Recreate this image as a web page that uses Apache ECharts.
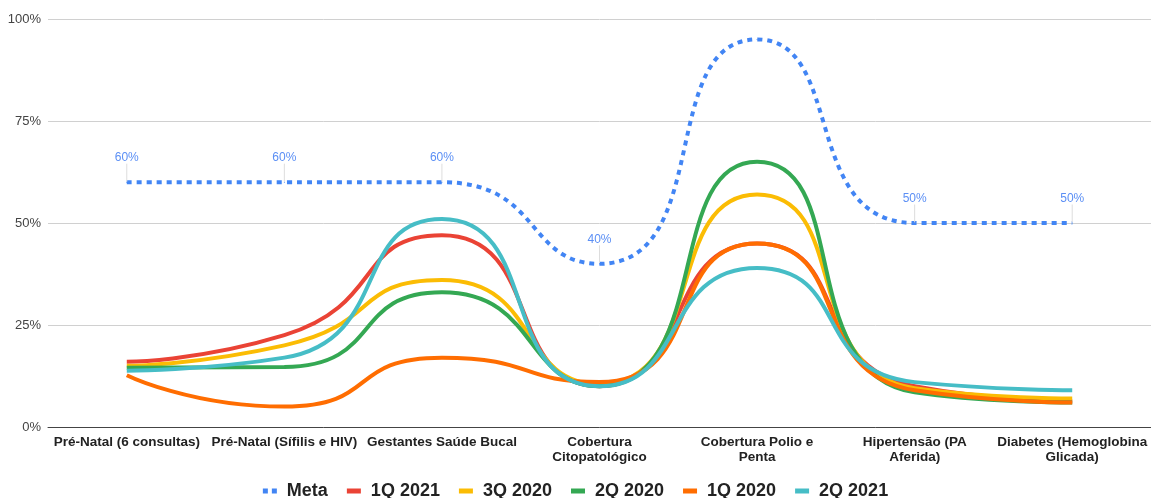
<!DOCTYPE html>
<html>
<head>
<meta charset="utf-8">
<script src="https://cdn.jsdelivr.net/npm/echarts@6/dist/echarts.min.js"></script>
<style>html,body{margin:0;padding:0;background:#fff}#c{width:1151px;height:498px}</style>
</head>
<body>
<div id="c"></div>
<script>
var categories = ["Pré-Natal (6 consultas)", "Pré-Natal (Sífilis e HIV)", "Gestantes Saúde Bucal", "Cobertura Citopatológico", "Cobertura Polio e Penta", "Hipertensão (PA Aferida)", "Diabetes (Hemoglobina Glicada)"];
var tickLabels = ["Pré-Natal (6 consultas)", "Pré-Natal (Sífilis e HIV)", "Gestantes Saúde Bucal", "Cobertura\nCitopatológico", "Cobertura Polio e\nPenta", "Hipertensão (PA\nAferida)", "Diabetes (Hemoglobina\nGlicada)"];
var yTicks = ["0%", "25%", "50%", "75%", "100%"];
var meta = [60, 60, 60, 40, 95, 50, 50];
var q1_2021 = [16, 22.5, 47, 10, 45, 10, 6.3];
var q3_2020 = [15, 20, 36, 10.5, 57, 9.5, 7];
var q2_2020 = [14.5, 14.7, 33, 10, 65, 8.5, 6];
var q1_2020 = [12.7, 5, 17, 11, 45, 9, 6];
var q2_2021 = [13.8, 17, 51, 10, 39, 11, 9];
var metaLabelShown = [true, true, true, true, false, true, true];

var colors = ["#4285f4", "#ea4335", "#fbbc04", "#34a853", "#ff6d01", "#46bdc6"];
var chart = echarts.init(document.getElementById('c'));
function lineSeries(name, data, color) {
  return {
    name: name, type: 'line', data: data, smooth: 0.6, symbol: 'none',
    lineStyle: {width: 4, color: color}, itemStyle: {color: color}, z: 3
  };
}
var metaData = meta.map(function (v, i) {
  return {value: v, label: {show: metaLabelShown[i]}, labelLine: {show: metaLabelShown[i]}};
});
var rectIcon = 'path://M0,0 L14,0 L14,5 L0,5 Z';
var dotIcon = 'path://M0,0 L5,0 L5,5 L0,5 Z M9,0 L14,0 L14,5 L9,5 Z';
chart.setOption({
  animation: false,
  textStyle: {fontFamily: 'Liberation Sans, Arial, sans-serif'},
  grid: {left: 48, right: 0, top: 19, bottom: 71, containLabel: false},
  legend: {
    top: 477, left: 'center', itemWidth: 14, itemHeight: 5, itemGap: 19,
    textStyle: {fontSize: 18, fontWeight: 'bold', color: '#222', padding: [0, 0, 0, 5]},
    data: [
      {name: 'Meta', icon: dotIcon, itemStyle: {color: colors[0], opacity: 1}},
      {name: '1Q 2021', icon: rectIcon},
      {name: '3Q 2020', icon: rectIcon},
      {name: '2Q 2020', icon: rectIcon},
      {name: '1Q 2020', icon: rectIcon},
      {name: '2Q 2021', icon: rectIcon}
    ]
  },
  xAxis: {
    type: 'category', data: categories, boundaryGap: true,
    axisTick: {show: false},
    axisLine: {lineStyle: {color: '#444', width: 1}},
    axisLabel: {
      interval: 0, fontSize: 13.5, fontWeight: 'bold', color: '#222', margin: 8, lineHeight: 15,
      formatter: function (v, i) { return tickLabels[i]; }
    }
  },
  yAxis: {
    type: 'value', min: 0, max: 100, interval: 25,
    axisLine: {show: false}, axisTick: {show: false},
    splitLine: {lineStyle: {color: '#d0d0d0', width: 1}},
    axisLabel: {fontSize: 13, color: '#444', margin: 7,
      formatter: function (v) { return yTicks[v / 25]; }}
  },
  series: [
    {
      name: 'Meta', type: 'line', data: metaData, smooth: 0.6, z: 4,
      symbol: 'circle', symbolSize: 1, showSymbol: true,
      lineStyle: {width: 4, color: colors[0], type: [5, 5], cap: 'butt'},
      itemStyle: {color: colors[0]},
      label: {show: true, position: 'top', distance: 4, color: '#5b8ff5', fontSize: 12,
        formatter: function (p) { return p.value + '%'; }},
      labelLine: {show: true, lineStyle: {color: '#dddddd', width: 1}},
      labelLayout: {dy: -14}
    },
    lineSeries('1Q 2021', q1_2021, colors[1]),
    lineSeries('3Q 2020', q3_2020, colors[2]),
    lineSeries('2Q 2020', q2_2020, colors[3]),
    lineSeries('1Q 2020', q1_2020, colors[4]),
    lineSeries('2Q 2021', q2_2021, colors[5])
  ]
});
</script>
</body>
</html>
